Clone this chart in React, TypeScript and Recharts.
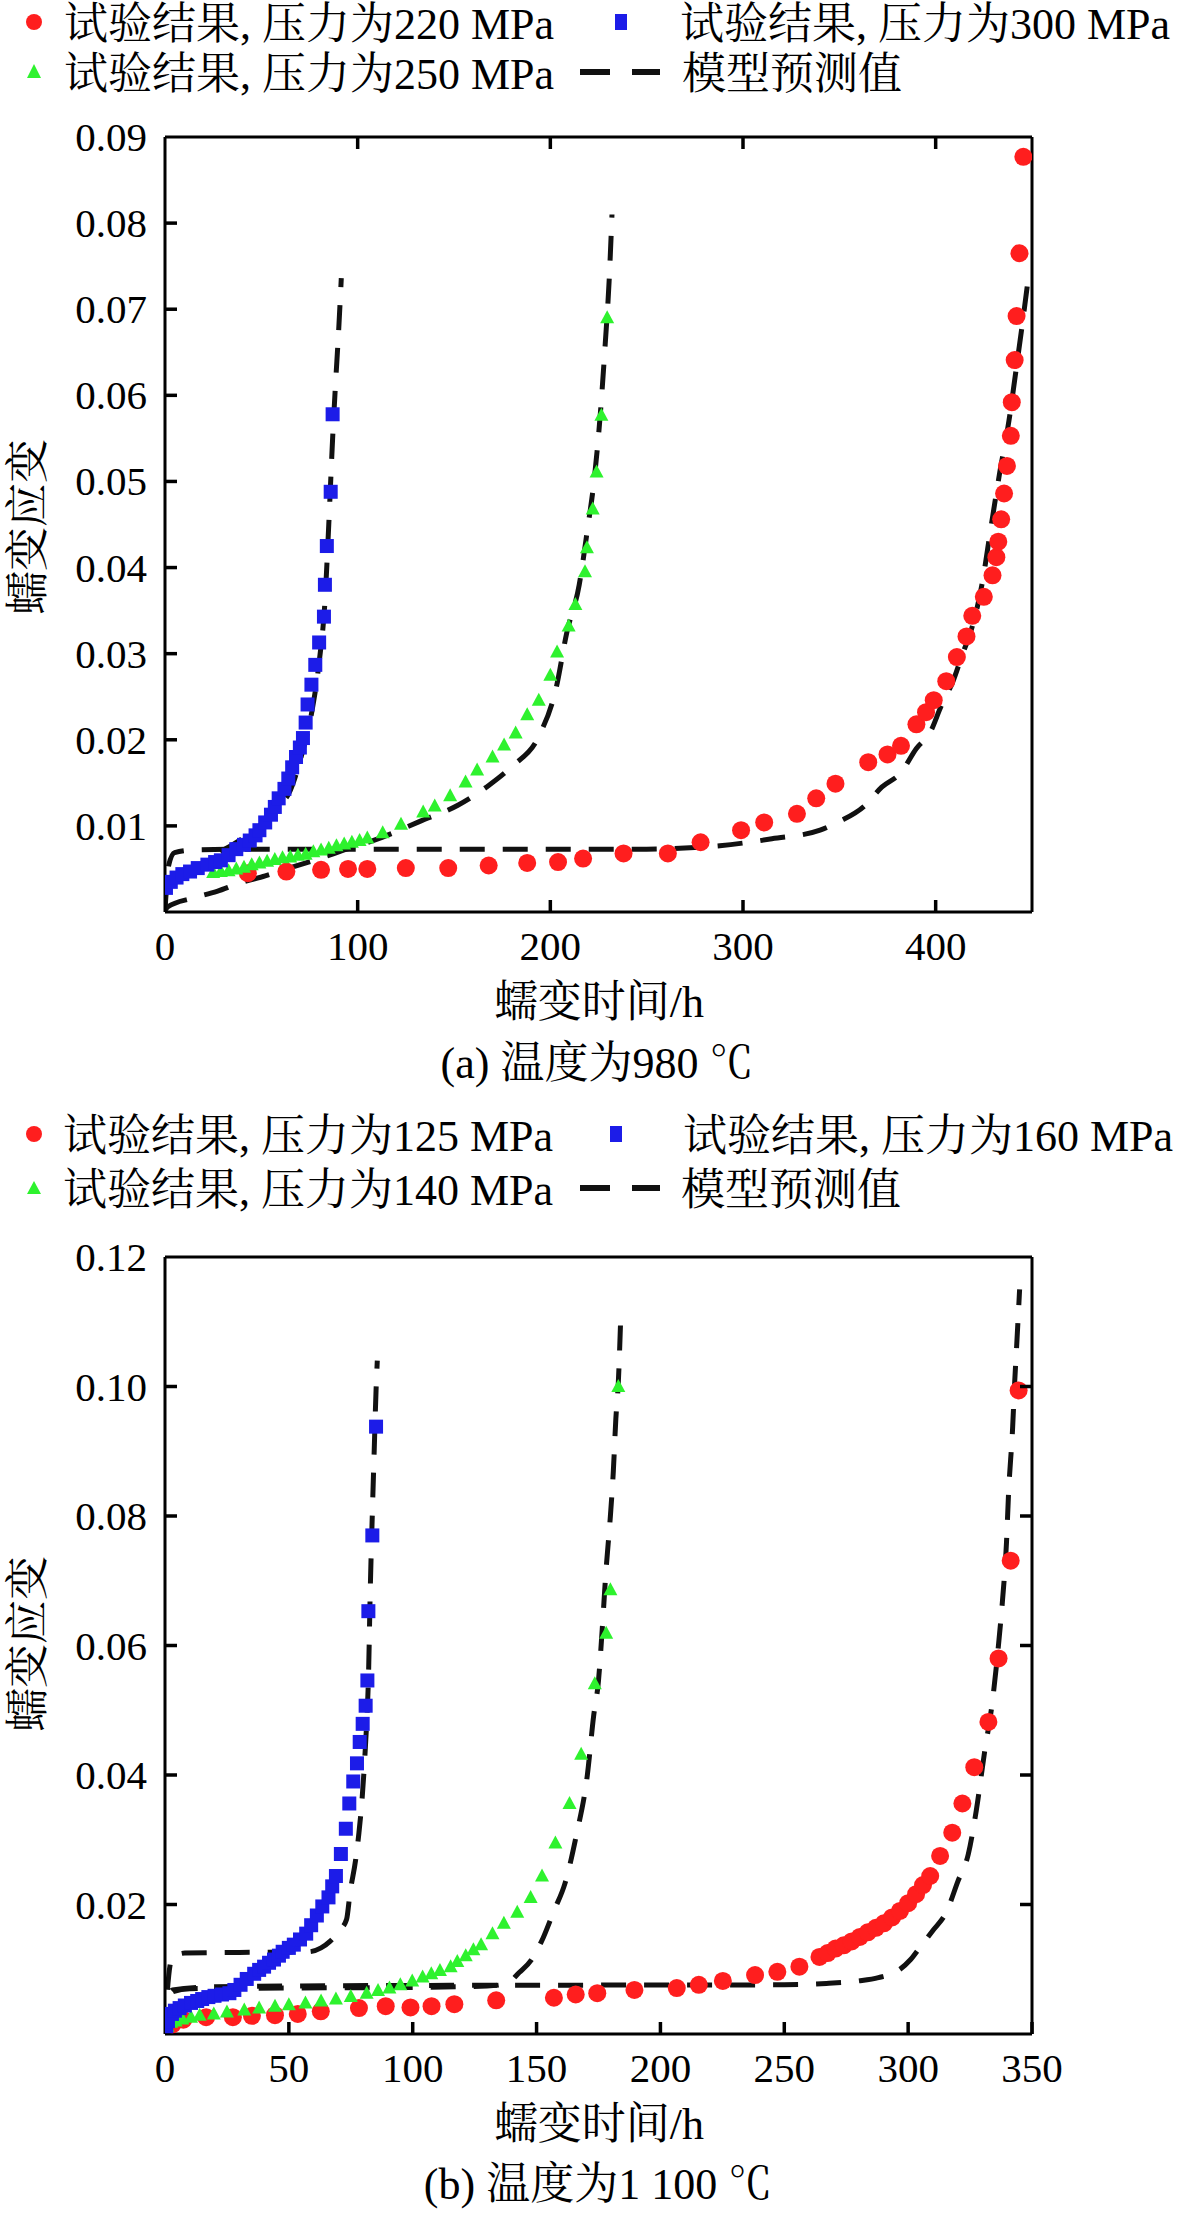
import React from 'react';
import { ComposedChart, Scatter, Line, XAxis, YAxis } from 'recharts';

type Pt = [number, number];

// ---- panel (a) 980 ℃ ----
const xTicksA = [0, 100, 200, 300, 400];
const yTicksA = [0.01, 0.02, 0.03, 0.04, 0.05, 0.06, 0.07, 0.08, 0.09];

const red220: Pt[] = [
  [43, 0.0045], [63, 0.0047], [81, 0.0049], [95, 0.005], [105, 0.005], [125, 0.0051], [147, 0.0051],
  [168, 0.0054], [188, 0.0057], [204, 0.0058], [217, 0.0062], [238, 0.0068], [261, 0.0068], [278, 0.0081],
  [299, 0.0095], [311, 0.0104], [328, 0.0114], [338, 0.0132], [348, 0.0149], [365, 0.0174], [375, 0.0183],
  [382, 0.0193], [390, 0.0218], [395, 0.0232], [399, 0.0246], [405.5, 0.0268], [411, 0.0296], [416, 0.032],
  [419, 0.0344], [425, 0.0366], [429.5, 0.0391], [431.5, 0.0412], [432.5, 0.043], [434, 0.0456],
  [435.5, 0.0486], [437, 0.0518], [439, 0.0553], [439.5, 0.0592], [441, 0.0641], [442, 0.0692],
  [443.5, 0.0765], [445.5, 0.0877],
];
const green250: Pt[] = [
  [25, 0.0046], [29, 0.0047], [33, 0.0048], [37, 0.005], [41, 0.0052], [45, 0.0055], [49, 0.0057],
  [53, 0.0059], [57, 0.0061], [61, 0.0063], [65, 0.0064], [69, 0.0066], [73, 0.0067], [77, 0.007],
  [81, 0.0072], [85, 0.0074], [89, 0.0077], [93, 0.0079], [97, 0.0081], [101, 0.0083], [105, 0.0086],
  [113, 0.0092], [122.5, 0.0102], [134, 0.0116], [140, 0.0123], [148, 0.0135], [156, 0.0151], [162, 0.0165],
  [170, 0.018], [176, 0.0194], [182, 0.0208], [188, 0.0229], [194, 0.0246], [200, 0.0275], [203.5, 0.0302],
  [209.5, 0.0332], [213, 0.0357], [218, 0.0395], [219, 0.0423], [222, 0.0468], [224, 0.0511],
  [226.5, 0.0577], [229.5, 0.069],
];
const blue300: Pt[] = [
  [0.5, 0.0028], [3, 0.0035], [6, 0.004], [9, 0.0044], [13, 0.0047], [17, 0.0051], [22, 0.0055],
  [26, 0.0058], [29, 0.006], [33, 0.0066], [37, 0.0073], [41, 0.0078], [44, 0.0083], [47, 0.0089],
  [49, 0.0095], [52, 0.0104], [55, 0.0113], [57, 0.0122], [59, 0.0132], [62, 0.0143], [64, 0.0155],
  [66, 0.0168], [68, 0.018], [70, 0.0191], [71.6, 0.0202], [73, 0.022], [74, 0.0241], [76, 0.0264],
  [78, 0.0287], [80, 0.0313], [82.5, 0.0343], [83, 0.038], [84, 0.0425], [86, 0.0488], [87, 0.0578],
];
const model220: Pt[] = [
  [0, 0.0003], [2, 0.0055], [5, 0.0069], [15, 0.0072], [50, 0.0073], [150, 0.0073], [250, 0.0073],
  [275, 0.0075], [288, 0.0077], [315, 0.0085], [340, 0.0095], [350, 0.0105], [363, 0.0123], [372, 0.0145],
  [382, 0.0162], [390, 0.019], [397, 0.0208], [403, 0.024], [409, 0.0268], [414, 0.03], [418, 0.0324],
  [424, 0.038], [428.5, 0.0444], [433, 0.0507], [438, 0.057], [442, 0.0634], [445, 0.0683], [448, 0.0735],
];
const model250: Pt[] = [
  [0, 0.0002], [1.5, 0.0006], [14, 0.0016], [27, 0.0024], [38, 0.0033], [52, 0.0042], [66, 0.0052],
  [80, 0.0062], [93, 0.0072], [113, 0.0087], [132, 0.0105], [152, 0.0124], [168, 0.0147], [180, 0.0169],
  [194, 0.0204], [203, 0.026], [208.5, 0.0324], [215, 0.038], [219, 0.044], [223, 0.0507], [226, 0.058],
  [228.5, 0.066], [230.5, 0.0732], [232, 0.081],
];
const model300: Pt[] = [
  [0, 0.0008], [1, 0.0035], [5, 0.0045], [12, 0.005], [20, 0.0057], [28, 0.0069], [35, 0.0078],
  [42, 0.0088], [50, 0.0102], [57, 0.012], [65, 0.0141], [71, 0.0183], [76, 0.023], [80, 0.029],
  [83, 0.036], [85, 0.045], [87, 0.055], [88.5, 0.0613], [90, 0.067], [91.5, 0.0736],
];

// ---- panel (b) 1 100 ℃ ----
const xTicksB = [0, 50, 100, 150, 200, 250, 300, 350];
const yTicksB = [0.02, 0.04, 0.06, 0.08, 0.1, 0.12];

const red125: Pt[] = [
  [3, 0.0015], [7.4, 0.0022], [16.6, 0.0026], [27.4, 0.0026], [35.1, 0.0028], [44.4, 0.0029], [53.6, 0.0031],
  [62.9, 0.0035], [78.3, 0.004], [89.1, 0.0043], [99.1, 0.0041], [107.6, 0.0043], [116.8, 0.0046],
  [133.7, 0.0052], [157, 0.0056], [165.8, 0.0061], [174.5, 0.0063], [189.5, 0.0068], [206.6, 0.0071],
  [215.5, 0.0076], [225.2, 0.0082], [238.2, 0.0091], [247.2, 0.0096], [256.1, 0.0104], [264.2, 0.0119],
  [267.5, 0.0125], [270.7, 0.0132], [274, 0.0137], [277.2, 0.0143], [280.5, 0.015], [283.7, 0.0157],
  [287, 0.0164], [290.2, 0.0171], [293.5, 0.018], [296.7, 0.019], [300, 0.0202], [303.2, 0.0216],
  [306, 0.023], [308.9, 0.0244], [312.9, 0.0275], [317.8, 0.0311], [321.9, 0.0356], [326.7, 0.0412],
  [332.4, 0.0482], [336.5, 0.058], [341.4, 0.0731], [344.6, 0.0994],
];
const green140: Pt[] = [
  [1, 0.0012], [2.5, 0.0018], [4.3, 0.002], [7, 0.0023], [10.5, 0.0026], [14, 0.0029], [19.7, 0.0031],
  [25, 0.0034], [32, 0.0037], [38, 0.004], [44.4, 0.0043], [50, 0.0045], [56.7, 0.0048], [63, 0.0051],
  [69, 0.0054], [75, 0.0058], [81.4, 0.0063], [86, 0.0067], [90.6, 0.0071], [95, 0.0076], [99.8, 0.0082],
  [104, 0.0088], [107.5, 0.0093], [111, 0.0098], [115.3, 0.0104], [118, 0.0112], [121.4, 0.0121],
  [124.5, 0.013], [127.6, 0.0138], [132.2, 0.0155], [136.8, 0.0171], [142.2, 0.0188], [147.6, 0.0211],
  [152.2, 0.0244], [157.6, 0.0295], [163.3, 0.0356], [168, 0.0432], [173.5, 0.0541], [178.1, 0.0619],
  [179.8, 0.0686], [183, 0.1],
];
const blue160: Pt[] = [
  [0.5, 0.0012], [1.2, 0.002], [2.8, 0.0031], [4, 0.0036], [5.9, 0.004], [8, 0.0044], [10.5, 0.0048],
  [13, 0.0051], [15, 0.0054], [17.5, 0.0057], [20, 0.0059], [23, 0.0061], [26, 0.0063], [28, 0.0068],
  [30.5, 0.0076], [33, 0.0085], [36, 0.0093], [38, 0.0099], [40, 0.0104], [42, 0.011], [44, 0.0115],
  [46, 0.0121], [47.5, 0.0127], [50, 0.0133], [52, 0.0138], [54.5, 0.0146], [57, 0.0155], [59, 0.0168],
  [61.3, 0.0183], [63.5, 0.0197], [66, 0.0211], [67.5, 0.0228], [69, 0.0244], [71, 0.0278], [73, 0.0317],
  [74.4, 0.0356], [76, 0.039], [77.5, 0.0418], [78.6, 0.0451], [79.8, 0.0479], [81, 0.0507],
  [81.7, 0.0546], [82.1, 0.0653], [83.7, 0.077], [85.2, 0.0938],
];
const model125: Pt[] = [
  [0, 0.0002], [1, 0.005], [3, 0.0068], [20, 0.0073], [100, 0.0075], [250, 0.0076], [267, 0.0078],
  [280, 0.0082], [288, 0.0087], [296, 0.0098], [301, 0.0115], [305, 0.0135], [310, 0.016], [315.4, 0.0188],
  [320, 0.0235], [324.3, 0.0278], [327.5, 0.0345], [330.8, 0.0434], [334, 0.0513], [336.5, 0.0602],
  [338.1, 0.067], [339.7, 0.0759], [340.5, 0.0832], [342.2, 0.0938], [343, 0.1006], [343.8, 0.1062],
  [345, 0.115],
];
const model140: Pt[] = [
  [0, 0.0002], [1, 0.005], [3, 0.0065], [10, 0.007], [50, 0.0071], [100, 0.0072], [130, 0.0074],
  [138, 0.0078], [143, 0.0095], [148, 0.0115], [152, 0.0143], [157, 0.019], [161.5, 0.0233], [166, 0.0306],
  [170.5, 0.04], [173, 0.049], [175, 0.0546], [176.5, 0.0625], [178, 0.0714], [179.8, 0.08], [181, 0.087],
  [182, 0.095], [183, 0.1006], [184, 0.111],
];
const model160: Pt[] = [
  [0, 0.0002], [0.5, 0.004], [1.5, 0.009], [3, 0.0118], [8, 0.0125], [30, 0.0126], [58, 0.0127],
  [63, 0.0133], [66.6, 0.0143], [70, 0.0158], [73.3, 0.0177], [74.7, 0.0218], [77, 0.027], [78.3, 0.0311],
  [79.5, 0.036], [80.6, 0.0423], [81.4, 0.048], [82.1, 0.0546], [82.9, 0.0692], [83.7, 0.0804],
  [84.4, 0.0894], [85.2, 0.0994], [85.7, 0.104],
];

const RED = '#ff1e1e';
const BLUE = '#1c1ce8';
const GREEN = '#2ef22e';
const FONT = "'Liberation Serif', 'Noto Serif CJK SC', 'Noto Sans CJK SC', serif";
const PLOT_LEFT = 165;
const PLOT_RIGHT = 1032;
const TICK = 12;

const rows = (pts: Pt[]) => pts.map(([x, y]) => ({ x, y }));

const circle = (p: any) => <circle cx={p.cx} cy={p.cy} r={9} fill={RED} />;
const square = (p: any) => <rect x={p.cx - 7} y={p.cy - 7} width={14} height={14} fill={BLUE} />;
const triangle = (p: any) => (
  <path d={`M${p.cx},${p.cy - 7.5}L${p.cx + 7},${p.cy + 5.5}L${p.cx - 7},${p.cy + 5.5}Z`} fill={GREEN} />
);

interface PanelProps {
  top: number;
  height: number;
  plotTop: number;
  plotBottom: number;
  xMax: number;
  yMax: number;
  xTicks: number[];
  yTicks: number[];
  topTicks: boolean;
  rightTicks: boolean;
  red: Pt[];
  green: Pt[];
  blue: Pt[];
  models: Pt[][];
}

const axisLine = { stroke: '#000', strokeWidth: 3 };

// inward tick marks, placed on the same linear frame the axes use
const TickMarks: React.FC<PanelProps> = (p) => {
  const w = PLOT_RIGHT - PLOT_LEFT;
  const h = p.plotBottom - p.plotTop;
  const sx = (v: number) => PLOT_LEFT + (v / p.xMax) * w;
  const sy = (v: number) => p.plotBottom - (v / p.yMax) * h;
  const inner = p.xTicks.filter((v) => v > 0);
  const innerY = p.yTicks.filter((v) => v < p.yMax - 1e-9);
  return (
    <g stroke="#000" strokeWidth={3.5}>
      {inner.map((v) => (
        <line key={`b${v}`} x1={sx(v)} x2={sx(v)} y1={p.plotBottom} y2={p.plotBottom - TICK} />
      ))}
      {p.topTicks &&
        inner.map((v) => <line key={`t${v}`} x1={sx(v)} x2={sx(v)} y1={p.plotTop} y2={p.plotTop + TICK} />)}
      {innerY.map((v) => (
        <line key={`l${v}`} x1={PLOT_LEFT} x2={PLOT_LEFT + TICK} y1={sy(v)} y2={sy(v)} />
      ))}
      {p.rightTicks &&
        innerY.map((v) => <line key={`r${v}`} x1={PLOT_RIGHT} x2={PLOT_RIGHT - TICK} y1={sy(v)} y2={sy(v)} />)}
    </g>
  );
};

const Panel: React.FC<PanelProps> = (p) => {
  const bottomY = p.plotBottom - p.top;
  const topY = p.plotTop - p.top;
  return (
    <div style={{ position: 'absolute', left: 0, top: p.top }}>
      <ComposedChart
        width={1181}
        height={p.height}
        margin={{ top: topY - 2, right: 1181 - PLOT_RIGHT - 2, bottom: p.height - bottomY - 60, left: PLOT_LEFT - 100 }}
      >
        <XAxis
          dataKey="x"
          type="number"
          domain={[0, p.xMax]}
          ticks={p.xTicks}
          interval={0}
          allowDataOverflow
          height={60}
          axisLine={axisLine}
          tickLine={false}
          tick={(t: any) => (
            <text x={t.x} y={bottomY + 34} textAnchor="middle" dominantBaseline="central"
              fontFamily={FONT} fontSize={41} fill="#000">
              {t.payload.value}
            </text>
          )}
        />
        <XAxis
          xAxisId="top"
          orientation="top"
          type="number"
          domain={[0, p.xMax]}
          allowDataOverflow
          height={2}
          axisLine={axisLine}
          tickLine={false}
          tick={false}
        />
        <YAxis
          dataKey="y"
          type="number"
          domain={[0, p.yMax]}
          ticks={p.yTicks}
          interval={0}
          allowDataOverflow
          width={100}
          axisLine={axisLine}
          tickLine={false}
          tick={(t: any) => (
            <text x={147} y={t.y} textAnchor="end" dominantBaseline="central"
              fontFamily={FONT} fontSize={41} fill="#000">
              {Number(t.payload.value).toFixed(2)}
            </text>
          )}
        />
        <YAxis
          yAxisId="right"
          orientation="right"
          type="number"
          domain={[0, p.yMax]}
          allowDataOverflow
          width={2}
          axisLine={axisLine}
          tickLine={false}
          tick={false}
        />
        <Scatter data={rows(p.red)} shape={circle} isAnimationActive={false} />
        <Scatter data={rows(p.green)} shape={triangle} isAnimationActive={false} />
        <Scatter data={rows(p.blue)} shape={square} isAnimationActive={false} />
        {p.models.map((m, i) => (
          <Line
            key={i}
            data={rows(m)}
            dataKey="y"
            type="monotone"
            stroke="#111"
            strokeWidth={5}
            strokeDasharray="25 18"
            dot={false}
            activeDot={false}
            isAnimationActive={false}
          />
        ))}
      </ComposedChart>
    </div>
  );
};

interface OverlayProps {
  panels: PanelProps[];
}

const Overlay: React.FC<OverlayProps> = ({ panels }) => {
  const txt = (x: number, y: number, s: string, anchor: 'start' | 'middle' = 'start') => (
    <text x={x} y={y} textAnchor={anchor} dominantBaseline="central" fontFamily={FONT} fontSize={44} fill="#000">
      {s}
    </text>
  );
  const dashes = (x: number, y: number) => (
    <g stroke="#111" strokeWidth={6}>
      <line x1={x} y1={y} x2={x + 30} y2={y} />
      <line x1={x + 52} y1={y} x2={x + 80} y2={y} />
    </g>
  );
  return (
    <svg width={1181} height={2214} style={{ position: 'absolute', left: 0, top: 0, pointerEvents: 'none' }}>
      {panels.map((p, i) => (
        <TickMarks key={i} {...p} />
      ))}
      {/* legend (a) */}
      <circle cx={34} cy={22} r={8} fill={RED} />
      {txt(64, 24, '试验结果, 压力为220 MPa')}
      <rect x={615} y={14} width={12} height={16} fill={BLUE} />
      {txt(680, 24, '试验结果, 压力为300 MPa')}
      <path d="M34,64L41,78L27,78Z" fill={GREEN} />
      {txt(64, 74, '试验结果, 压力为250 MPa')}
      {dashes(580, 72)}
      {txt(682, 74, '模型预测值')}
      {/* axis titles (a) */}
      {txt(599, 1002, '蠕变时间/h', 'middle')}
      <text x={28} y={527} textAnchor="middle" dominantBaseline="central" fontFamily={FONT} fontSize={44}
        transform="rotate(-90 28 527)">蠕变应变</text>
      {txt(597, 1063, '(a) 温度为980 ℃', 'middle')}

      {/* legend (b) */}
      <circle cx={34} cy={1134} r={8} fill={RED} />
      {txt(63, 1136, '试验结果, 压力为125 MPa')}
      <rect x={610} y={1126} width={12} height={16} fill={BLUE} />
      {txt(683, 1136, '试验结果, 压力为160 MPa')}
      <path d="M34,1181L41,1194L27,1194Z" fill={GREEN} />
      {txt(63, 1190, '试验结果, 压力为140 MPa')}
      {dashes(580, 1188)}
      {txt(681, 1190, '模型预测值')}
      {/* axis titles (b) */}
      {txt(599, 2124, '蠕变时间/h', 'middle')}
      <text x={28} y={1644} textAnchor="middle" dominantBaseline="central" fontFamily={FONT} fontSize={44}
        transform="rotate(-90 28 1644)">蠕变应变</text>
      {txt(598, 2184, '(b) 温度为1 100 ℃', 'middle')}
    </svg>
  );
};

const panelA: PanelProps = {
  top: 0,
  height: 1100,
  plotTop: 137,
  plotBottom: 912,
  xMax: 450,
  yMax: 0.09,
  xTicks: xTicksA,
  yTicks: yTicksA,
  topTicks: true,
  rightTicks: false,
  red: red220,
  green: green250,
  blue: blue300,
  models: [model220, model250, model300],
};

const panelB: PanelProps = {
  top: 1100,
  height: 1114,
  plotTop: 1257,
  plotBottom: 2034,
  xMax: 350,
  yMax: 0.12,
  xTicks: xTicksB,
  yTicks: yTicksB,
  topTicks: false,
  rightTicks: true,
  red: red125,
  green: green140,
  blue: blue160,
  models: [model125, model140, model160],
};

export default function App() {
  return (
    <div style={{ position: 'absolute', left: 0, top: 0, width: 1181, height: 2214, background: '#fff' }}>
      <Panel {...panelA} />
      <Panel {...panelB} />
      <Overlay panels={[panelA, panelB]} />
    </div>
  );
}
